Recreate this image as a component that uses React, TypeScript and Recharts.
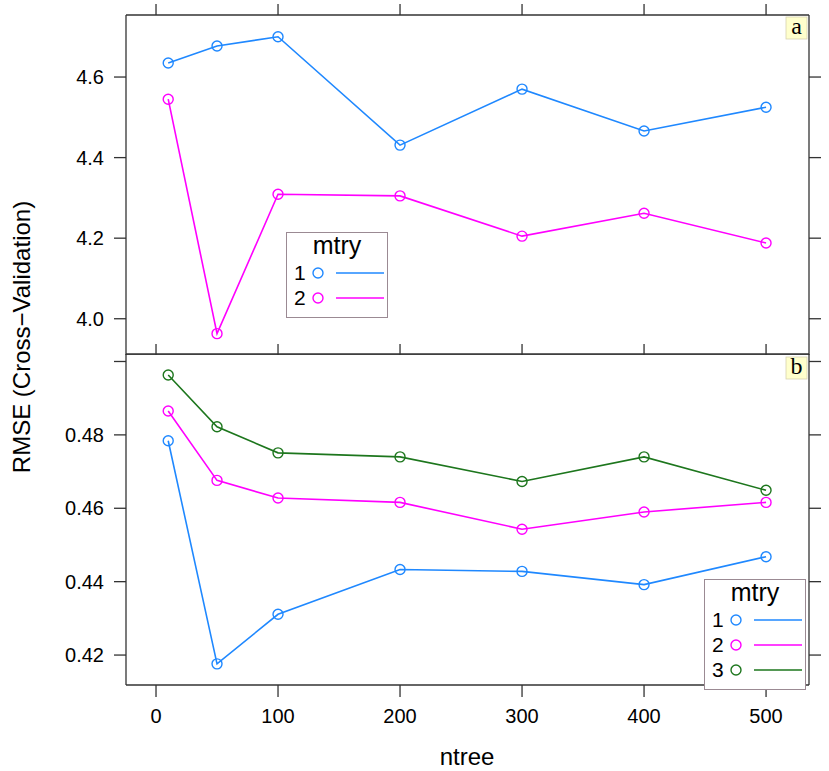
import { LineChart, Line, XAxis, YAxis } from "recharts";

const ntree = [10, 50, 100, 200, 300, 400, 500];
const xTicks = [0, 100, 200, 300, 400, 500];

// panel a
const aMtry1 = [4.635, 4.677, 4.7, 4.431, 4.57, 4.466, 4.525];
const aMtry2 = [4.545, 3.963, 4.309, 4.305, 4.205, 4.262, 4.188];
const aTicks = [4.0, 4.2, 4.4, 4.6];

// panel b
const bMtry1 = [0.4784, 0.4176, 0.4311, 0.4433, 0.4428, 0.4392, 0.4468];
const bMtry2 = [0.4865, 0.4676, 0.4628, 0.4616, 0.4543, 0.459, 0.4616];
const bMtry3 = [0.4963, 0.4822, 0.4751, 0.474, 0.4673, 0.474, 0.4649];
const bTicks = [0.42, 0.44, 0.46, 0.48, 0.5];

const COLORS = ["#1f88ff", "#ff00ff", "#1d761d"];
const FRAME = "#333";
const FONT = "'Liberation Sans', Arial, sans-serif";

const dataA = ntree.map((n, i) => ({ ntree: n, m1: aMtry1[i], m2: aMtry2[i] }));
const dataB = ntree.map((n, i) => ({ ntree: n, m1: bMtry1[i], m2: bMtry2[i], m3: bMtry3[i] }));

const xDomain: [number, number] = [-24.6, 535.2];
const tickStyle = { fontSize: 20, fill: "#000", fontFamily: FONT };
const blank = () => "";

function dot(color: string) {
  return { r: 5, fill: "none", stroke: color, strokeWidth: 1.4 };
}

function Legend({ left, top, keys }: { left: number; top: number; keys: string[] }) {
  const w = 102;
  const h = 30 + keys.length * 25 + 6;
  return (
    <svg style={{ position: "absolute", left, top }} width={w} height={h}>
      <rect x={0.5} y={0.5} width={w - 1} height={h - 1} fill="#fff" stroke="#9b8a93" />
      <text x={w / 2} y={22} textAnchor="middle" fontSize={25} fontFamily={FONT}>mtry</text>
      {keys.map((k, i) => (
        <g key={k}>
          <text x={8} y={48 + i * 25} fontSize={21} fontFamily={FONT}>{k}</text>
          <circle cx={32} cy={41 + i * 25} r={5} fill="none" stroke={COLORS[i]} strokeWidth={1.4} />
          <line x1={50} x2={98} y1={41 + i * 25} y2={41 + i * 25} stroke={COLORS[i]} strokeWidth={1.6} />
        </g>
      ))}
    </svg>
  );
}

function Strip({ top, label }: { top: number; label: string }) {
  return (
    <g>
      <rect x={786} y={top} width={21} height={22} fill="#ffffcc" stroke="#d8d2b0" strokeWidth={0.8} />
      <text x={796.5} y={top + 17} textAnchor="middle" fontSize={24} fontFamily="'Liberation Serif', serif">{label}</text>
    </g>
  );
}

export default function App() {
  return (
    <div style={{ position: "absolute", left: 0, top: 0, width: 829, height: 771, background: "#fff", fontFamily: FONT }}>
      <div style={{ position: "absolute", left: 0, top: 0 }}>
        <LineChart width={829} height={355} data={dataA} margin={{ top: 4, right: 8, left: 66, bottom: 0 }}>
          <XAxis xAxisId="top" orientation="top" dataKey="ntree" type="number" domain={xDomain} allowDataOverflow
            ticks={xTicks} height={11} tickSize={11} tickFormatter={blank} stroke={FRAME} strokeWidth={1.3} />
          <XAxis xAxisId="bot" orientation="bottom" dataKey="ntree" type="number" domain={xDomain} allowDataOverflow
            ticks={xTicks} height={1} tickSize={11} mirror tickFormatter={blank} stroke={FRAME} strokeWidth={1.3} />
          <YAxis yAxisId="l" type="number" domain={[3.91, 4.754]} allowDataOverflow ticks={aTicks} width={60}
            tickSize={12} tickMargin={10} tick={tickStyle} tickFormatter={(v: number) => v.toFixed(1)}
            stroke={FRAME} strokeWidth={1.3} />
          <YAxis yAxisId="r" orientation="right" type="number" domain={[3.91, 4.754]} allowDataOverflow ticks={aTicks}
            width={12} tickSize={12} tickFormatter={blank} stroke={FRAME} strokeWidth={1.3} />
          <Line xAxisId="top" yAxisId="l" dataKey="m1" stroke={COLORS[0]} strokeWidth={1.6} dot={dot(COLORS[0])} isAnimationActive={false} />
          <Line xAxisId="top" yAxisId="l" dataKey="m2" stroke={COLORS[1]} strokeWidth={1.6} dot={dot(COLORS[1])} isAnimationActive={false} />
        </LineChart>
      </div>
      <div style={{ position: "absolute", left: 0, top: 340 }}>
        <LineChart width={829} height={431} data={dataB} margin={{ top: 14, right: 8, left: 66, bottom: 46 }}>
          <XAxis dataKey="ntree" type="number" domain={xDomain} allowDataOverflow ticks={xTicks} height={40}
            tickSize={12} tickMargin={12} tick={tickStyle} stroke={FRAME} strokeWidth={1.3} />
          <YAxis yAxisId="l" type="number" domain={[0.41184, 0.50204]} allowDataOverflow ticks={bTicks} width={60}
            tickSize={12} tickMargin={10} tick={tickStyle}
            tickFormatter={(v: number) => (v >= 0.499 ? "" : v.toFixed(2))} stroke={FRAME} strokeWidth={1.3} />
          <YAxis yAxisId="r" orientation="right" type="number" domain={[0.41184, 0.50204]} allowDataOverflow ticks={bTicks}
            width={12} tickSize={12} tickFormatter={blank} stroke={FRAME} strokeWidth={1.3} />
          <Line yAxisId="l" dataKey="m1" stroke={COLORS[0]} strokeWidth={1.6} dot={dot(COLORS[0])} isAnimationActive={false} />
          <Line yAxisId="l" dataKey="m2" stroke={COLORS[1]} strokeWidth={1.6} dot={dot(COLORS[1])} isAnimationActive={false} />
          <Line yAxisId="l" dataKey="m3" stroke={COLORS[2]} strokeWidth={1.6} dot={dot(COLORS[2])} isAnimationActive={false} />
        </LineChart>
      </div>
      <svg style={{ position: "absolute", left: 0, top: 0, pointerEvents: "none" }} width={829} height={771}>
        <line x1={126} x2={809} y1={354} y2={354} stroke={FRAME} strokeWidth={1.3} />
        <Strip top={17} label="a" />
        <Strip top={357} label="b" />
        <text transform="translate(30,337) rotate(-90)" textAnchor="middle" fontSize={24} fontFamily={FONT}>
          RMSE (Cross−Validation)
        </text>
        <text x={467} y={765} textAnchor="middle" fontSize={24} fontFamily={FONT}>ntree</text>
      </svg>
      <Legend left={286} top={232} keys={["1", "2"]} />
      <Legend left={704} top={579} keys={["1", "2", "3"]} />
    </div>
  );
}
